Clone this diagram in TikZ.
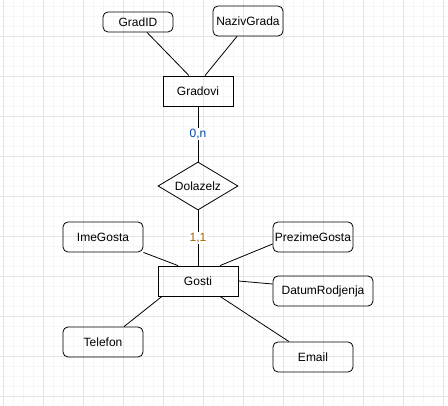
\documentclass[tikz,border=0pt]{standalone}
\usepackage{fontspec}
\setmainfont{Liberation Sans}
\usetikzlibrary{shapes.geometric}

\definecolor{gridminor}{RGB}{246,246,246}
\definecolor{gridmajor}{RGB}{228,228,228}
\definecolor{cardblue}{RGB}{0,70,170}
\definecolor{cardbrown}{RGB}{160,100,0}

\tikzset{
  entity/.style={draw, thick, minimum width=70pt, minimum height=30pt, inner sep=0pt},
  attrib/.style={draw, thick, rounded corners=5pt, minimum width=80pt, minimum height=30pt, inner sep=0pt},
  relation/.style={draw, thick, diamond, aspect=1.67, minimum width=80pt, minimum height=48pt, inner sep=0pt},
  card/.style={fill=white, inner sep=1pt},
  link/.style={thick}
}

\begin{document}
\begin{tikzpicture}[x=1pt, y=-1pt, font=\fontsize{12}{14}\selectfont, line width=0.8pt]
    % Background grid
    \fill[white] (0,0) rectangle (448,406);
    \useasboundingbox (0,0) rectangle (448,406);
    \foreach \gx in {3,13,...,443} \draw[gridminor, line width=0.6pt] (\gx,0) -- (\gx,406);
    \foreach \gy in {6,16,...,406} \draw[gridminor, line width=0.6pt] (0,\gy) -- (448,\gy);
    \foreach \gx in {3,43,...,443} \draw[gridmajor, line width=0.6pt] (\gx,0) -- (\gx,406);
    \foreach \gy in {36,76,...,396} \draw[gridmajor, line width=0.6pt] (0,\gy) -- (448,\gy);
    % Entity Gradovi with attributes
    \node[entity] (gradovi) at (198,91) {Gradovi};
    \node[attrib, minimum width=70pt, minimum height=20pt] (gradid) at (138,22) {GradID};
    \node[attrib, minimum width=70pt] (nazivgrada) at (248,21) {NazivGrada};
    \draw[link] ([xshift=9pt]gradid.south) -- ([xshift=-9pt]gradovi.north);
    \draw[link] ([xshift=-11pt]nazivgrada.south) -- ([xshift=7pt]gradovi.north);
    % Relationship
    \node[relation] (dolazelz) at (198,186) {Dolazelz};
    \draw[link] (gradovi) -- (dolazelz) node[midway, card, text=cardblue] {0,n};
    % Entity Gosti with attributes
    \node[entity, minimum width=80pt] (gosti) at (198,281) {Gosti};
    \draw[link] (dolazelz) -- (gosti) node[midway, card, text=cardbrown] {1,1};
    \node[attrib] (imegosta) at (103,237) {ImeGosta};
    \node[attrib] (prezimegosta) at (313,237) {PrezimeGosta};
    \node[attrib, minimum width=100pt] (datum) at (323,291) {DatumRodjenja};
    \node[attrib] (telefon) at (103,342) {Telefon};
    \node[attrib] (email) at (313,357) {Email};
    \draw[link] (imegosta.south east) -- ([xshift=-20pt]gosti.north);
    \draw[link] ([yshift=-7pt]prezimegosta.west) -- ([xshift=22pt]gosti.north);
    \draw[link] (gosti.east) -- ([yshift=7pt]datum.west);
    \draw[link] ([xshift=-36pt]gosti.south) -- ([xshift=21pt]telefon.north);
    \draw[link] ([xshift=22pt]gosti.south) -- ([xshift=-24pt]email.north);
\end{tikzpicture}
\end{document}
